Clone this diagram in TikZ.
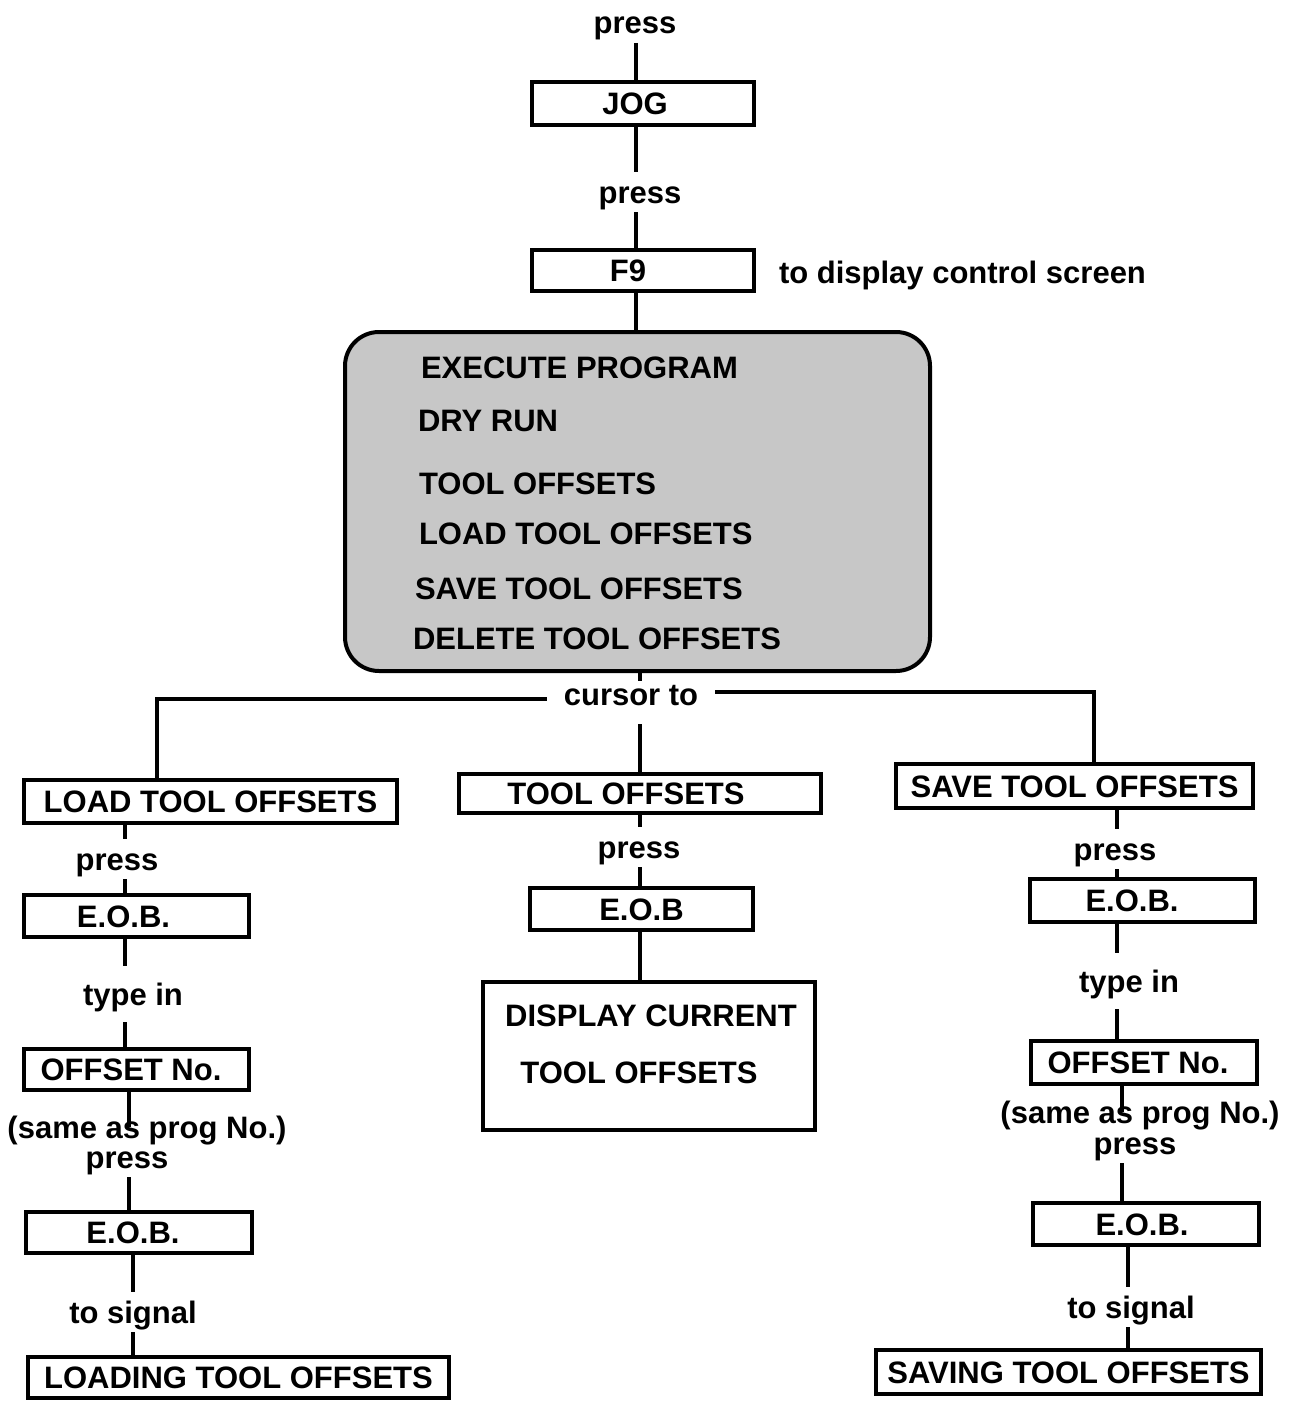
\documentclass[tikz,border=0pt]{standalone}
\usepackage{fontspec}
\setmainfont{Liberation Sans}

\begin{document}
\begin{tikzpicture}[x=0.5pt, y=-0.5pt, line width=2pt,
    every node/.style={font=\bfseries\fontsize{15.5}{18}\selectfont, inner sep=0pt, text height=11pt, text depth=0pt},
    keybox/.style={draw, rectangle, line width=2pt},
    nudge/.style={execute at begin node={\hspace*{#1}}},
    screen/.style={draw, rectangle, rounded corners=17pt, fill=black!22, line width=2pt},
    lbl/.style={text height=14.5pt, text depth=3.5pt},
    typelbl/.style={lbl, inner ysep=4pt}]
    \useasboundingbox (0,0) rectangle (1294,1402);

    % columns of the connectors
    \coordinate (colT) at (636,0);
    \coordinate (colM) at (640,0);
    \coordinate (colL1) at (125,0);
    \coordinate (colL2) at (129,0);
    \coordinate (colL3) at (133,0);
    \coordinate (colR1) at (1117,0);
    \coordinate (colR2) at (1122,0);
    \coordinate (colR3) at (1128,0);

    % top
    \node[lbl] (press1) at (635,23) {press};
    \node[keybox, nudge=-8pt, minimum width=111pt, minimum height=21.5pt] (jog) at (643,103.5) {JOG};
    \node[lbl] (press2) at (640,192) {press};
    \node[keybox, nudge=-15pt, minimum width=111pt, minimum height=20.5pt] (f9) at (643,270.5) {F9};
    \node[anchor=west] (screentxt) at (777,272) {to display control screen};

    % control screen
    \node[screen, minimum width=292.5pt, minimum height=169.5pt] (menu) at (637.5,501.5) {};
    \node[anchor=west] (m1) at (419,367) {EXECUTE PROGRAM};
    \node[anchor=west] (m2) at (416,420) {DRY RUN};
    \node[anchor=west] (m3) at (417,483) {TOOL OFFSETS};
    \node[anchor=west] (m4) at (417,533) {LOAD TOOL OFFSETS};
    \node[anchor=west] (m5) at (413,588) {SAVE TOOL OFFSETS};
    \node[anchor=west] (m6) at (411,638) {DELETE TOOL OFFSETS};

    \node[inner xsep=7.5pt] (cursor) at (631,694) {cursor to};
    \coordinate (bl) at (157,699);
    \coordinate (br) at (1094,692);

    % left branch
    \node[keybox, minimum width=186.5pt, minimum height=21.5pt] (load) at (210.5,801.5) {LOAD TOOL OFFSETS};
    \node[lbl] (pressL) at (117,859) {press};
    \node[keybox, nudge=-13pt, minimum width=112.5pt, minimum height=21pt] (eobA) at (136.5,916) {E.O.B.};
    \node[typelbl] (typeL) at (133,994) {type in};
    \node[keybox, nudge=-5.5pt, minimum width=112.5pt, minimum height=20.5pt] (offA) at (136.5,1069.5) {OFFSET No.};
    \node (sameL) at (147,1127) {(same as prog No.)};
    \node[lbl] (pressL2) at (127,1157) {press};
    \node[keybox, nudge=-6pt, minimum width=113pt, minimum height=20.5pt] (eobB) at (139,1232.5) {E.O.B.};
    \node[lbl] (sigL) at (133,1312) {to signal};
    \node[keybox, minimum width=210.5pt, minimum height=20.5pt] (loading) at (238.5,1377.5) {LOADING TOOL OFFSETS};

    % middle branch
    \node[keybox, nudge=-14pt, minimum width=181pt, minimum height=19.5pt] (tool) at (640,793.5) {TOOL OFFSETS};
    \node[lbl] (pressC) at (639,847) {press};
    \node[keybox, minimum width=111.5pt, minimum height=21pt] (eobC) at (641.5,909) {E.O.B};
    \node[keybox, minimum width=166pt, minimum height=74pt] (disp) at (649,1056) {};
    \node (disp1) at (651,1015) {DISPLAY CURRENT};
    \node (disp2) at (639,1072) {TOOL OFFSETS};

    % right branch
    \node[keybox, minimum width=178.5pt, minimum height=22pt] (save) at (1074.5,786) {SAVE TOOL OFFSETS};
    \node[lbl] (pressR) at (1115,849) {press};
    \node[keybox, nudge=-10.5pt, minimum width=112.5pt, minimum height=21.5pt] (eobD) at (1142.5,900.5) {E.O.B.};
    \node[typelbl] (typeR) at (1129,981) {type in};
    \node[keybox, nudge=-6pt, minimum width=113pt, minimum height=21.5pt] (offB) at (1144,1062.5) {OFFSET No.};
    \node (sameR) at (1140,1112) {(same as prog No.)};
    \node[lbl] (pressR2) at (1135,1143) {press};
    \node[keybox, nudge=-4pt, minimum width=113pt, minimum height=21pt] (eobE) at (1146,1224) {E.O.B.};
    \node[lbl] (sigR) at (1131,1307) {to signal};
    \node[keybox, minimum width=192.5pt, minimum height=22pt] (saving) at (1068.5,1372) {SAVING TOOL OFFSETS};

    % connectors
    \draw (press1.south -| colT) -- (jog.north -| colT);
    \draw (jog.south -| colT) -- (press2.north -| colT);
    \draw (press2.south -| colT) -- (f9.north -| colT);
    \draw (f9.south -| colT) -- (menu.north -| colT);
    \draw (menu.south -| colM) -- (cursor.north -| colM);
    \draw ([yshift=-2.5pt]cursor.west) -- (bl) -- (bl |- load.north);
    \draw ([yshift=1pt]cursor.east) -- (br) -- (br |- save.north);
    \draw ([yshift=-8.5pt]cursor.south -| colM) -- (tool.north -| colM);

    \draw (load.south -| colL1) -- (pressL.north -| colL1);
    \draw (pressL.south -| colL1) -- (eobA.north -| colL1);
    \draw (eobA.south -| colL1) -- (typeL.north -| colL1);
    \draw (typeL.south -| colL1) -- (offA.north -| colL1);
    \draw (offA.south -| colL2) -- (sameL.center -| colL2);
    \draw (pressL2.south -| colL2) -- (eobB.north -| colL2);
    \draw (eobB.south -| colL3) -- (sigL.north -| colL3);
    \draw (sigL.south -| colL3) -- (loading.north -| colL3);

    \draw (tool.south -| colM) -- (pressC.north -| colM);
    \draw (pressC.south -| colM) -- (eobC.north -| colM);
    \draw (eobC.south -| colM) -- (disp.north -| colM);

    \draw (save.south -| colR1) -- (pressR.north -| colR1);
    \draw (pressR.south -| colR1) -- (eobD.north -| colR1);
    \draw (eobD.south -| colR1) -- (typeR.north -| colR1);
    \draw (typeR.south -| colR1) -- (offB.north -| colR1);
    \draw (offB.south -| colR2) -- (sameR.center -| colR2);
    \draw (pressR2.south -| colR2) -- (eobE.north -| colR2);
    \draw (eobE.south -| colR3) -- (sigR.north -| colR3);
    \draw (sigR.south -| colR3) -- (saving.north -| colR3);
\end{tikzpicture}
\end{document}
